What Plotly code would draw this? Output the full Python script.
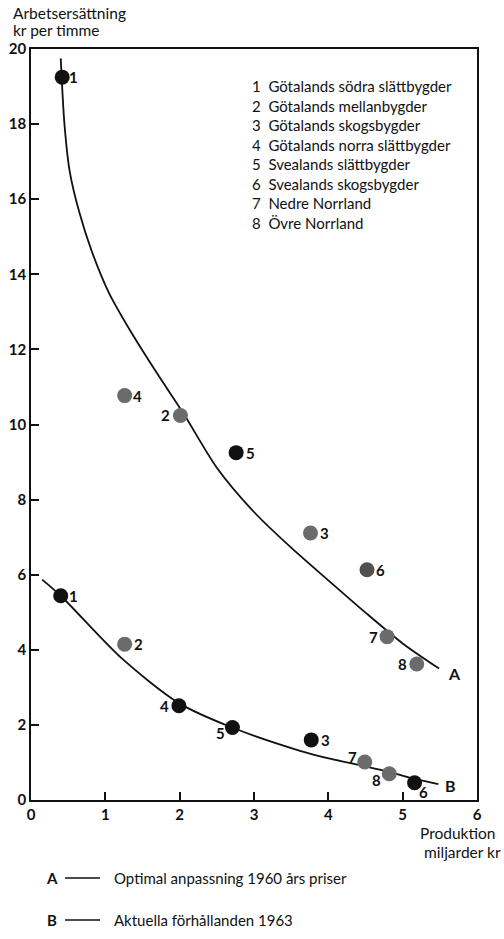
import plotly.graph_objects as go

# ---- data ----
region_names = [
    "Götalands södra slättbygder",
    "Götalands mellanbygder",
    "Götalands skogsbygder",
    "Götalands norra slättbygder",
    "Svealands slättbygder",
    "Svealands skogsbygder",
    "Nedre Norrland",
    "Övre Norrland",
]
region_ids = [1, 2, 3, 4, 5, 6, 7, 8]

# Series A: optimal adaptation, 1960 prices (points)
a_prod = [0.42, 2.01, 3.76, 1.26, 2.76, 4.52, 4.79, 5.19]
a_wage = [19.25, 10.24, 7.11, 10.77, 9.25, 6.13, 4.35, 3.62]
# Series B: actual conditions 1963 (points)
b_prod = [0.40, 1.26, 3.77, 1.99, 2.71, 5.16, 4.49, 4.82]
b_wage = [5.44, 4.15, 1.60, 2.51, 1.93, 0.46, 1.01, 0.70]

# Fitted curves
curve_a_x = [0.40, 0.45, 0.52, 0.65, 0.82, 1.05, 1.35, 1.70, 2.05, 2.50, 3.00, 3.50, 4.00, 4.50, 5.00, 5.49]
curve_a_y = [19.75, 18.0, 16.75, 15.65, 14.6, 13.5, 12.45, 11.35, 10.3, 8.85, 7.67, 6.72, 5.85, 4.99, 4.17, 3.5]
curve_b_x = [0.15, 0.40, 1.21, 1.99, 2.68, 3.62, 4.02, 4.49, 4.82, 5.16, 5.48]
curve_b_y = [5.87, 5.44, 3.79, 2.58, 1.95, 1.31, 1.10, 0.90, 0.75, 0.56, 0.42]

x_ticks = [0, 1, 2, 3, 4, 5, 6]
y_ticks = [0, 2, 4, 6, 8, 10, 12, 14, 16, 18, 20]

y_title = ["Arbetsersättning", "kr per timme"]
x_title = ["Produktion", "miljarder kr"]
curve_names = {"A": "Optimal anpassning 1960 års priser", "B": "Aktuella förhållanden 1963"}

# ---- styling ----
INK = "#111111"
GRAY = "#6b6b6b"
DGRAY = "#505050"
FONT = "Lato"
W, H = 504, 939
ML, MR, MT, MB = 31, 27, 49, 139
PW, PH = W - ML - MR, H - MT - MB

a_colors = [INK, GRAY, GRAY, GRAY, INK, DGRAY, GRAY, GRAY]
b_colors = [INK, GRAY, INK, INK, INK, INK, GRAY, GRAY]
# label offsets (px) relative to each dot
a_off = [(11, 0), (-15, 0), (14, 0), (13, 0), (14, 0), (14, 0), (-14, 0), (-14, 0)]
b_off = [(13, 0), (14, 0), (14, 0), (-14, 0), (-12, -5), (9, -9), (-12, 5), (-13, -6)]


def px_x(px):
    return (px - ML) / PW


def px_y(py):
    return (H - MB - py) / PH


fig = go.Figure()

for cx, cy in ((curve_a_x, curve_a_y), (curve_b_x, curve_b_y)):
    fig.add_trace(go.Scatter(x=cx, y=cy, mode="lines",
                             line=dict(color=INK, width=1.8, shape="spline", smoothing=0.8),
                             hoverinfo="skip", showlegend=False))

for px, py, cols, offs in ((a_prod, a_wage, a_colors, a_off), (b_prod, b_wage, b_colors, b_off)):
    fig.add_trace(go.Scatter(x=px, y=py, mode="markers",
                             marker=dict(size=15, color=cols), showlegend=False))
    for xv, yv, rid, (dx, dy) in zip(px, py, region_ids, offs):
        fig.add_annotation(x=xv, y=yv, text=str(rid), showarrow=False,
                           xanchor="center", yanchor="middle", xshift=dx, yshift=dy,
                           font=dict(family=FONT, size=15, color=INK, weight="bold"))

# curve end labels
fig.add_annotation(x=curve_a_x[-1], y=curve_a_y[-1], text="A", showarrow=False,
                   xanchor="left", yanchor="middle", xshift=7, yshift=-5,
                   font=dict(family=FONT, size=16, color=INK, weight="bold"))
fig.add_annotation(x=curve_b_x[-1], y=curve_b_y[-1], text="B", showarrow=False,
                   xanchor="left", yanchor="middle", xshift=5, yshift=-1,
                   font=dict(family=FONT, size=16, color=INK, weight="bold"))

# region key inside plot
key_text = "<br>".join(f"{i}  {n}" for i, n in zip(region_ids, region_names))
fig.add_annotation(xref="paper", yref="paper", x=px_x(250), y=px_y(75), text=key_text,
                   showarrow=False, xanchor="left", yanchor="top", align="left",
                   font=dict(family=FONT, size=15, color=INK))

# axis titles
for txt, ypos in zip(y_title, (13, 30)):
    fig.add_annotation(xref="paper", yref="paper", x=px_x(11), y=px_y(ypos), text=txt,
                       showarrow=False, xanchor="left", yanchor="middle",
                       font=dict(family=FONT, size=15.5, color=INK))
for txt, xr, ypos in zip(x_title, (497, 503), (833, 852)):
    fig.add_annotation(xref="paper", yref="paper", x=px_x(xr), y=px_y(ypos), text=txt,
                       showarrow=False, xanchor="right", yanchor="middle",
                       font=dict(family=FONT, size=15.5, color=INK))

# bottom key for curves
for (lab, desc), ypos in zip(curve_names.items(), (878, 920)):
    fig.add_annotation(xref="paper", yref="paper", x=px_x(52), y=px_y(ypos),
                       text=f"<b>{lab}</b>", showarrow=False,
                       xanchor="center", yanchor="middle",
                       font=dict(family=FONT, size=15, color=INK))
    fig.add_annotation(xref="paper", yref="paper", x=px_x(112), y=px_y(ypos),
                       text=desc, showarrow=False,
                       xanchor="left", yanchor="middle", align="left",
                       font=dict(family=FONT, size=15, color=INK))
    fig.add_shape(type="line", xref="paper", yref="paper",
                  x0=px_x(65), x1=px_x(100), y0=px_y(ypos), y1=px_y(ypos),
                  line=dict(color=INK, width=1.5))

axis_common = dict(showline=True, linecolor=INK, linewidth=1.5, mirror=True,
                   ticks="inside", ticklen=8, tickwidth=1.5, tickcolor=INK,
                   showgrid=False, zeroline=False, automargin=False,
                   tickfont=dict(family=FONT, size=15, color=INK, weight="bold"))

fig.update_xaxes(range=[0, 6], tickvals=x_ticks, ticktext=[str(v) for v in x_ticks], **axis_common)
fig.update_yaxes(range=[0, 20], tickvals=y_ticks, ticktext=[str(v) for v in y_ticks], **axis_common)

fig.update_layout(width=W, height=H, margin=dict(l=ML, r=MR, t=MT, b=MB),
                  plot_bgcolor="white", paper_bgcolor="white",
                  font=dict(family=FONT, color=INK))

fig.write_html("out.html", config={"displayModeBar": False},
               post_script="document.body.style.margin='0';document.body.style.overflow='hidden';")
